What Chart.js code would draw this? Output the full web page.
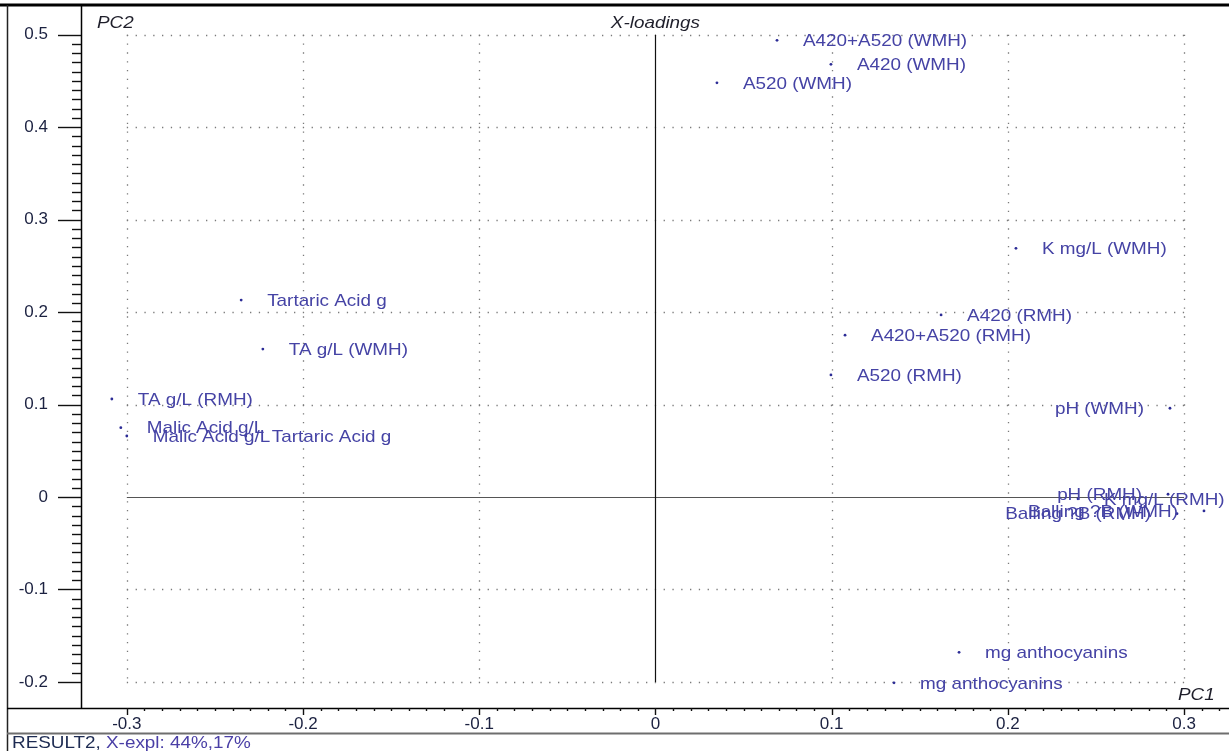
<!DOCTYPE html>
<html>
<head>
<meta charset="utf-8">
<script src="https://cdn.jsdelivr.net/npm/chart.js@4.4.1/dist/chart.umd.min.js"></script>
<style>
  html, body { margin: 0; padding: 0; background: #ffffff; }
  canvas { display: block; }
</style>
</head>
<body>
<canvas id="c" width="1229" height="751"></canvas>
<script>
// ---- data ----
const variableNames = [
  "A420+A520 (WMH)", "A420 (WMH)", "A520 (WMH)", "K mg/L (WMH)",
  "A420 (RMH)", "A420+A520 (RMH)", "A520 (RMH)", "pH (WMH)",
  "pH (RMH)", "K mg/L (RMH)", "Balling ?B (WMH)", "Balling ?B (RMH)",
  "TA g/L (RMH)", "Malic Acid g/L", "Malic Acid g/L", "Tartaric Acid g",
  "Tartaric Acid g", "TA g/L (WMH)", "mg anthocyanins", "mg anthocyanins"
];
const pc1Loadings = [
  0.069, 0.0996, 0.0349, 0.2046,
  0.1621, 0.1076, 0.0996, 0.292,
  0.2909, 0.2398, 0.3113, 0.296,
  -0.3085, -0.3034, -0.300, -0.2325,
  -0.2351, -0.2228, 0.1723, 0.1354
];
const pc2Loadings = [
  0.494, 0.468, 0.448, 0.269,
  0.197, 0.175, 0.132, 0.096,
  0.003, -0.002, -0.015, -0.018,
  0.106, 0.075, 0.066, 0.066,
  0.213, 0.160, -0.168, -0.201
];
const xTickValues = [-0.3, -0.2, -0.1, 0, 0.1, 0.2, 0.3];
const xTickLabels = ["-0.3", "-0.2", "-0.1", "0", "0.1", "0.2", "0.3"];
const yTickValues = [-0.2, -0.1, 0, 0.1, 0.2, 0.3, 0.4, 0.5];
const yTickLabels = ["-0.2", "-0.1", "0", "0.1", "0.2", "0.3", "0.4", "0.5"];
const chartTitle = "X-loadings";
const xAxisName = "PC1";
const yAxisName = "PC2";
const footerParts = ["RESULT2, ", "X-expl: 44%,17%"];

// ---- styling ----
const FONT = '"Liberation Sans", Arial, sans-serif';
const STRETCH = 1.11;
const LABEL_COLOR = '#4543a5';
const TICK_COLOR = '#1b2140';

function sText(ctx, text, x, y, align, font, color) {
  ctx.save();
  ctx.font = font;
  ctx.fillStyle = color;
  ctx.textBaseline = 'middle';
  ctx.textAlign = align;
  ctx.translate(x, y);
  ctx.scale(STRETCH, 1);
  ctx.fillText(text, 0, 0);
  ctx.restore();
}
function sWidth(ctx, text, font) {
  ctx.save();
  ctx.font = font;
  const w = ctx.measureText(text).width * STRETCH;
  ctx.restore();
  return w;
}

const decorPlugin = {
  id: 'decor',
  beforeDatasetsDraw(chart) {
    const ctx = chart.ctx;
    const xs = chart.scales.x, ys = chart.scales.y;
    const gx0 = xs.getPixelForValue(xTickValues[0]);
    const gx1 = xs.getPixelForValue(xTickValues[xTickValues.length - 1]);
    const gy0 = ys.getPixelForValue(yTickValues[yTickValues.length - 1]);
    const gy1 = ys.getPixelForValue(yTickValues[0]);
    ctx.save();
    ctx.strokeStyle = '#7a7a7a';
    ctx.lineWidth = 1.3;
    ctx.setLineDash([1.3, 7.5]);
    yTickValues.forEach(v => {
      if (v === 0) return;
      const p = Math.round(ys.getPixelForValue(v)) + 0.5;
      ctx.beginPath(); ctx.moveTo(gx0, p); ctx.lineTo(gx1 + 2, p); ctx.stroke();
    });
    xTickValues.forEach(v => {
      if (v === 0) return;
      const p = Math.round(xs.getPixelForValue(v)) + 0.5;
      ctx.beginPath(); ctx.moveTo(p, gy0); ctx.lineTo(p, gy1 + 2); ctx.stroke();
    });
    ctx.setLineDash([]);
    ctx.strokeStyle = '#555555';
    ctx.lineWidth = 1.2;
    const zy = Math.round(ys.getPixelForValue(0)) + 0.5;
    ctx.beginPath(); ctx.moveTo(gx0, zy); ctx.lineTo(gx1, zy); ctx.stroke();
    ctx.strokeStyle = '#111111';
    const zx = Math.round(xs.getPixelForValue(0)) + 0.5;
    ctx.beginPath(); ctx.moveTo(zx, gy0); ctx.lineTo(zx, gy1); ctx.stroke();
    ctx.restore();
  },
  afterDatasetsDraw(chart) {
    const ctx = chart.ctx;
    const area = chart.chartArea;
    const meta = chart.getDatasetMeta(0);
    const font = '17px ' + FONT;
    meta.data.forEach((pt, i) => {
      const name = variableNames[i];
      const w = sWidth(ctx, name, font);
      const gap = 26;
      if (pt.x + gap + w > area.right) {
        sText(ctx, name, pt.x - gap, pt.y + 1, 'right', font, LABEL_COLOR);
      } else {
        sText(ctx, name, pt.x + gap, pt.y + 1, 'left', font, LABEL_COLOR);
      }
    });
  },
  afterDraw(chart) {
    const ctx = chart.ctx;
    const xs = chart.scales.x, ys = chart.scales.y;
    const area = chart.chartArea;
    const W = chart.width, H = chart.height;
    ctx.save();
    ctx.strokeStyle = '#000000';
    ctx.lineWidth = 3;
    ctx.beginPath(); ctx.moveTo(0, 5); ctx.lineTo(W, 5); ctx.stroke();
    ctx.lineWidth = 1.5;
    ctx.strokeStyle = '#222222';
    ctx.beginPath(); ctx.moveTo(7.5, 5); ctx.lineTo(7.5, H); ctx.stroke();
    ctx.strokeStyle = '#000000';
    ctx.beginPath(); ctx.moveTo(area.left + 0.5, 6); ctx.lineTo(area.left + 0.5, area.bottom); ctx.stroke();
    ctx.beginPath(); ctx.moveTo(7, area.bottom + 0.5); ctx.lineTo(W, area.bottom + 0.5); ctx.stroke();
    ctx.strokeStyle = '#6e6e6e';
    ctx.lineWidth = 2;
    ctx.beginPath(); ctx.moveTo(7, area.bottom + 25.5); ctx.lineTo(W, area.bottom + 25.5); ctx.stroke();

    ctx.strokeStyle = '#111111';
    ctx.lineWidth = 1.4;
    const yMinT = yTickValues[0], yMaxT = yTickValues[yTickValues.length - 1];
    for (let k = Math.round(yMinT * 100); k <= Math.round(yMaxT * 100); k++) {
      const p = Math.round(ys.getPixelForValue(k / 100)) + 0.5;
      const len = (k % 10 === 0) ? 23 : 9;
      ctx.beginPath(); ctx.moveTo(area.left - len, p); ctx.lineTo(area.left, p); ctx.stroke();
    }
    const xMinT = xTickValues[0];
    for (let k = Math.round(xMinT * 100); k <= 32; k++) {
      const p = Math.round(xs.getPixelForValue(k / 100)) + 0.5;
      const len = (k % 10 === 0) ? 7 : 3;
      ctx.beginPath(); ctx.moveTo(p, area.bottom); ctx.lineTo(p, area.bottom + len); ctx.stroke();
    }
    ctx.restore();

    const ifont = 'italic 17px ' + FONT;
    sText(ctx, yAxisName, 97, 23, 'left', ifont, '#1e1e2a');
    sText(ctx, chartTitle, xs.getPixelForValue(0), 23, 'center', ifont, '#1e1e2a');
    sText(ctx, xAxisName, 1178, 695, 'left', ifont, '#1e1e2a');
    const ffont = '17px ' + FONT;
    sText(ctx, footerParts[0], 12, 743, 'left', ffont, '#1d2b52');
    const w0 = sWidth(ctx, footerParts[0], ffont);
    sText(ctx, footerParts[1], 12 + w0, 743, 'left', ffont, '#4a3fa6');
  }
};

const points = pc1Loadings.map((v, i) => ({ x: v, y: pc2Loadings[i] }));

new Chart(document.getElementById('c'), {
  type: 'scatter',
  data: {
    datasets: [{
      label: 'X-loadings',
      data: points,
      pointRadius: 1.4,
      pointHoverRadius: 1.4,
      pointBorderWidth: 0,
      pointBackgroundColor: '#2c2c96',
      pointBorderColor: '#2c2c96'
    }]
  },
  options: {
    responsive: false,
    animation: false,
    devicePixelRatio: 1,
    layout: { autoPadding: false, padding: { top: 7, bottom: 18, left: 0, right: 0 } },
    plugins: { legend: { display: false }, tooltip: { enabled: false }, title: { display: false } },
    scales: {
      x: {
        type: 'linear',
        min: -0.326,
        max: 0.3255,
        afterBuildTicks: s => { s.ticks = xTickValues.map(v => ({ value: v })); },
        afterFit: s => { s.height = 25; s.paddingLeft = 0; s.paddingRight = 0; s.paddingTop = 0; s.paddingBottom = 0; },
        ticks: {
          includeBounds: false,
          padding: 6,
          maxRotation: 0,
          autoSkip: false,
          color: TICK_COLOR,
          font: { family: FONT, size: 17 },
          callback: (v) => {
            const i = xTickValues.findIndex(t => Math.abs(t - v) < 1e-9);
            return i >= 0 ? xTickLabels[i] : '';
          }
        },
        grid: { display: false, drawTicks: false },
        border: { display: false }
      },
      y: {
        type: 'linear',
        min: -0.2282,
        max: 0.530,
        afterBuildTicks: s => { s.ticks = yTickValues.map(v => ({ value: v })); },
        afterFit: s => { s.width = 81; s.paddingTop = 0; s.paddingBottom = 0; s.paddingLeft = 0; s.paddingRight = 0; },
        ticks: {
          includeBounds: false,
          padding: 33,
          autoSkip: false,
          color: TICK_COLOR,
          font: { family: FONT, size: 17 },
          callback: (v) => {
            const i = yTickValues.findIndex(t => Math.abs(t - v) < 1e-9);
            return i >= 0 ? yTickLabels[i] : '';
          }
        },
        grid: { display: false, drawTicks: false },
        border: { display: false }
      }
    }
  },
  plugins: [decorPlugin]
});
</script>
</body>
</html>
